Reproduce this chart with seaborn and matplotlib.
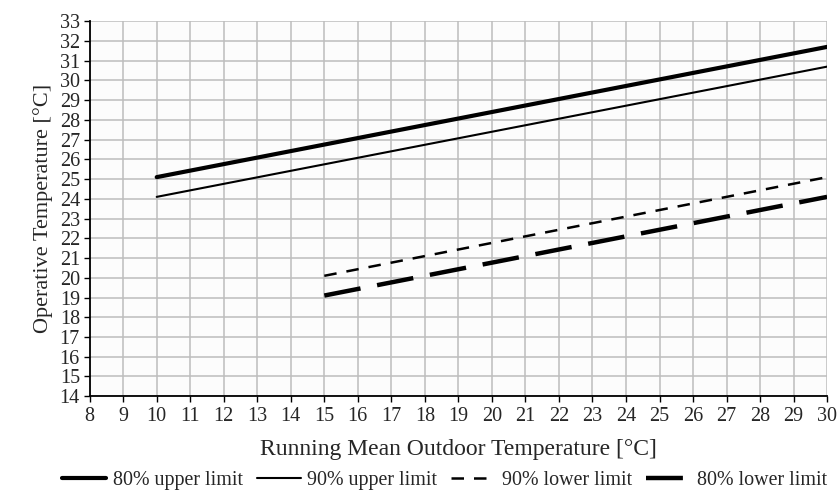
import pandas as pd
import numpy as np
import matplotlib
matplotlib.use('Agg')
import matplotlib.pyplot as plt
import seaborn as sns

# end points
upper_x = [10, 30]
upper80 = [25.1, 31.7]
upper90 = [24.1, 30.7]
lower_x = [15, 30]
lower90 = [20.1, 25.1]
lower80 = [19.1, 24.1]

series = ['80% upper limit', '90% upper limit', '90% lower limit', '80% lower limit']

df = pd.concat([
    pd.DataFrame({'x': upper_x, 'y': upper80, 'limit': series[0]}),
    pd.DataFrame({'x': upper_x, 'y': upper90, 'limit': series[1]}),
    pd.DataFrame({'x': lower_x, 'y': lower90, 'limit': series[2]}),
    pd.DataFrame({'x': lower_x, 'y': lower80, 'limit': series[3]}),
])

sns.set_style('white')
plt.rcParams['font.family'] = ['Liberation Serif', 'DejaVu Serif']

fig, ax = plt.subplots(figsize=(8.38, 4.94), dpi=100)
fig.subplots_adjust(left=0.107, right=0.987, top=0.957, bottom=0.198)
ax.set_facecolor('#fcfcfc')

widths = {series[0]: 3.0, series[1]: 1.5, series[2]: 1.8, series[3]: 3.2}
dashes = {series[0]: '', series[1]: '', series[2]: (5, 4), series[3]: (8.3, 3.8)}
for name in series:
    sub = df[df['limit'] == name]
    sns.lineplot(data=sub, x='x', y='y', ax=ax, color='black',
                 linewidth=widths[name], label=name)
    l = ax.get_lines()[-1]
    if dashes[name]:
        l.set_dashes(dashes[name])

ax.set_xlim(8, 30)
ax.set_ylim(14, 33)
ax.set_xticks(np.arange(8, 31, 1))
ax.set_yticks(np.arange(14, 34, 1))
ax.grid(True, color='#bdbdbd', linewidth=1.1)
for s in ['top', 'right']:
    ax.spines[s].set_visible(False)
for s in ['left', 'bottom']:
    ax.spines[s].set_color('black')
    ax.spines[s].set_linewidth(1.3)
ax.tick_params(axis='both', direction='out', length=4, width=1, color='black',
               labelsize=14.5, bottom=True, left=True)
ax.tick_params(axis='x', pad=4)
ax.tick_params(axis='y', pad=3)
ax.set_xlabel('Running Mean Outdoor Temperature [°C]', fontsize=17, labelpad=9)
ax.set_ylabel('Operative Temperature [°C]', fontsize=16, labelpad=5)

leg = ax.legend(loc='center', bbox_to_anchor=(0.481, -0.226), ncol=4, frameon=False,
                fontsize=14.4, handlelength=2.2, handletextpad=0.33, columnspacing=0.7,
                borderaxespad=0, borderpad=0)

fig.savefig('out.png', dpi=100)
